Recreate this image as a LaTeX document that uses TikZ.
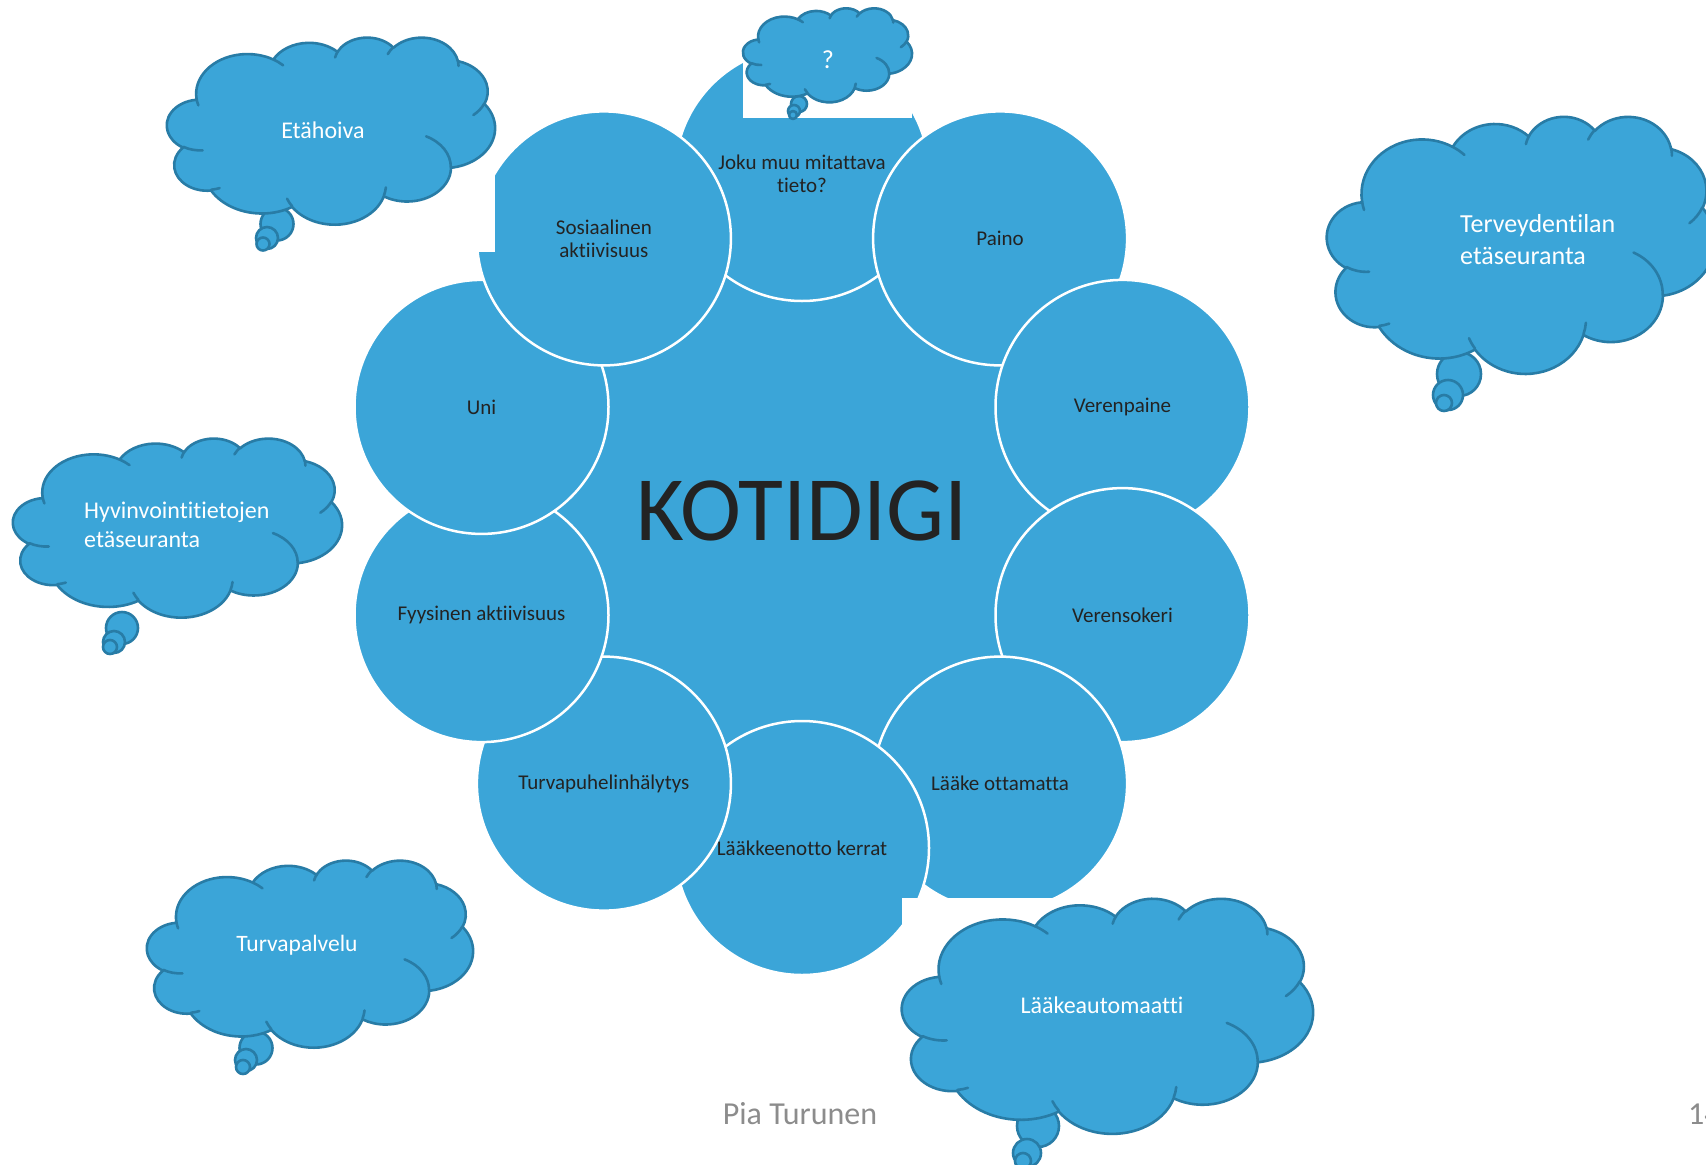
\documentclass[tikz,border=0pt]{standalone}
\usepackage{fontspec}
\setmainfont{Carlito}[Ligatures=NoCommon]
\definecolor{kblue}{RGB}{59,165,216}
\definecolor{kline}{RGB}{40,124,166}
\definecolor{ktext}{RGB}{35,35,35}
\definecolor{kgray}{RGB}{140,140,140}
\newcommand{\cloudshape}[4]{%
  \pgfmathsetmacro\cwx{#3/43.2}%
  \pgfmathsetmacro\cwy{#4/43.2}%
  \begin{scope}[shift={(#1,#2)},xscale=\cwx,yscale=\cwy]
    \filldraw[cloudbody] (3.9,14.37)
      arc[start angle=172.255, end angle=300.37, x radius=6.753pt, y radius=9.19pt]
      arc[start angle=-152.02, end angle=-45.46, x radius=5.333pt, y radius=7.267pt]
      arc[start angle=-153.50, end angle=-37.33, x radius=4.365pt, y radius=5.945pt]
      arc[start angle=-139.70, end angle=-10.21, x radius=4.857pt, y radius=6.595pt]
      arc[start angle=-74.77, end angle=23.21, x radius=5.333pt, y radius=7.273pt]
      arc[start angle=-37.53, end angle=81.86, x radius=6.775pt, y radius=9.22pt]
      arc[start angle=0.46, end angle=121.97, x radius=5.785pt, y radius=7.867pt]
      arc[start angle=16.84, end angle=146.23, x radius=6.752pt, y radius=9.215pt]
      arc[start angle=58.98, end angle=150.19, x radius=7.72pt, y radius=10.543pt]
      arc[start angle=83.31, end angle=223.12, x radius=4.36pt, y radius=5.918pt]
      arc[start angle=120.36, end angle=264.11, x radius=4.345pt, y radius=5.945pt]
      -- cycle;
    \draw[cloudline]
      (4.693,26.177) arc[start angle=85.55, end angle=120.36, x radius=4.345pt, y radius=5.945pt]
      (6.928,34.899) arc[start angle=68.24, end angle=83.31, x radius=4.36pt, y radius=5.918pt]
      (16.478,39.09) arc[start angle=146.23, end angle=158.47, x radius=6.752pt, y radius=9.215pt]
      (28.827,34.751) arc[start angle=4.74, end angle=16.84, x radius=6.752pt, y radius=9.215pt]
      (34.129,22.954) arc[start angle=-64.03, end angle=0.46, x radius=5.785pt, y radius=7.867pt]
      (41.798,15.354) arc[start angle=23.21, end angle=49.63, x radius=5.333pt, y radius=7.273pt]
      (38.324,5.426) arc[start angle=-10.21, end angle=0.82, x radius=4.857pt, y radius=6.595pt]
      (29.078,3.952) arc[start angle=-156.28, end angle=-139.70, x radius=4.857pt, y radius=6.595pt]
      (22.141,4.72) arc[start angle=-167.73, end angle=-153.50, x radius=4.365pt, y radius=5.945pt]
      (14.0,5.192) arc[start angle=-59.63, end angle=-45.74, x radius=6.753pt, y radius=9.19pt]
      (4.127,15.789) arc[start angle=163.19, end angle=172.25, x radius=6.753pt, y radius=9.19pt];
  \end{scope}}
\begin{document}
\begin{tikzpicture}[x=1pt,y=1pt,yscale=-1,
  sat/.style={circle, fill=kblue, draw=white, line width=2.5pt, minimum size=254pt,
    inner sep=0pt, text=ktext, align=center, font=\fontsize{21}{23}\selectfont},
  hub/.style={circle, fill=kblue, minimum size=580pt, inner sep=0pt, text=ktext,
    font=\fontsize{92}{100}\selectfont},
  cloudbody/.style={fill=kblue, draw=kline, line width=2.6pt, line join=round},
  cloudline/.style={draw=kline, line width=2.6pt, line cap=round},
  cloudtext/.style={text=white, inner sep=0pt, font=\fontsize{24}{29}\selectfont},
  backbox/.style={fill=white},
  foot/.style={text=kgray, inner sep=0pt, font=\fontsize{32}{38}\selectfont}]
\useasboundingbox (0,0) rectangle (1706,1165);
\clip (0,0) rectangle (1706,1165);
\fill[white] (0,0) rectangle (1706,1165);

% hub and satellites
\node[hub] (hub) at (802,511) {KOTIDIGI};
\node[sat] (s0) at (802,174) {Joku muu mitattava\\tieto?};
\node[sat] (s1) at (1000.1,238.4) {Paino};
\node[sat] (s2) at (1122.5,406.9) {Verenpaine};
\node[sat] (s3) at (1122.5,615.1) {Verensokeri};
\node[sat] (s4) at (1000.1,783.6) {Lääke ottamatta};
\node[sat] (s5) at (802,848) {Lääkkeenotto kerrat};
\node[sat] (s6) at (603.9,783.6) {Turvapuhelinhälytys};
\node[sat] (s7) at (481.5,615.1) {Fyysinen aktiivisuus};
\node[sat] (s8) at (481.5,406.9) {Uni};
\node[sat] (s9) at (603.9,238.4) {Sosiaalinen\\aktiivisuus};

% white boxes behind the clouds
\fill[backbox] (167,37) rectangle (495,252);
\fill[backbox] (1327,116) rectangle (1715,412);
\fill[backbox] (13,438) rectangle (342,655);
\fill[backbox] (147,860) rectangle (473,1075);
\fill[backbox] (902,898) rectangle (1313,1170);
\fill[backbox] (743,0) rectangle (912,118);

% cloud: Etähoiva
\filldraw[cloudbody] (277,224) circle[radius=16.5pt];
\filldraw[cloudbody] (267,238) circle[radius=11pt];
\filldraw[cloudbody] (263,244) circle[radius=6.5pt];
\cloudshape{167}{37}{328}{187}
\node[cloudtext] (c1) at (323,130) {Etähoiva};

% cloud: Terveydentilan etäseuranta
\filldraw[cloudbody] (1459,374) circle[radius=22pt];
\filldraw[cloudbody] (1448,395) circle[radius=15pt];
\filldraw[cloudbody] (1444,403) circle[radius=8pt];
\cloudshape{1327}{116}{388}{257}
\node[cloudtext, anchor=west, align=left, font=\fontsize{26}{32}\selectfont] (c2) at (1460,240) {Terveydentilan\\etäseuranta};

% cloud: Hyvinvointitietojen etäseuranta
\filldraw[cloudbody] (122,628) circle[radius=16pt];
\filldraw[cloudbody] (114,642) circle[radius=11pt];
\filldraw[cloudbody] (110,647) circle[radius=7pt];
\cloudshape{13}{438}{329}{179}
\node[cloudtext, anchor=west, align=left] (c3) at (84,525) {Hyvinvointitietojen\\etäseuranta};

% cloud: Turvapalvelu
\filldraw[cloudbody] (256,1048) circle[radius=16.5pt];
\filldraw[cloudbody] (246,1060) circle[radius=11pt];
\filldraw[cloudbody] (243,1067) circle[radius=7pt];
\cloudshape{147}{860}{326}{187}
\node[cloudtext, font=\fontsize{23.5}{28}\selectfont] (c4) at (297,945) {Turvapalvelu};

% cloud: Lääkeautomaatti
\filldraw[cloudbody] (1038,1126) circle[radius=21pt];
\filldraw[cloudbody] (1027,1153) circle[radius=14pt];
\filldraw[cloudbody] (1023,1161) circle[radius=8pt];
\cloudshape{902}{898}{411}{235}
\node[cloudtext] (c5) at (1102,1005) {Lääkeautomaatti};

% cloud: ?
\filldraw[cloudbody] (799,104) circle[radius=8pt];
\filldraw[cloudbody] (794,111) circle[radius=6pt];
\filldraw[cloudbody] (793,115) circle[radius=4pt];
\cloudshape{743}{8}{169}{94}
\node[cloudtext, font=\fontsize{26}{30}\selectfont] (c6) at (828,60) {?};

% footer
\node[foot] (author) at (800,1114) {Pia Turunen};
\node[foot, anchor=west] (page) at (1688,1114) {14};
\end{tikzpicture}
\end{document}
